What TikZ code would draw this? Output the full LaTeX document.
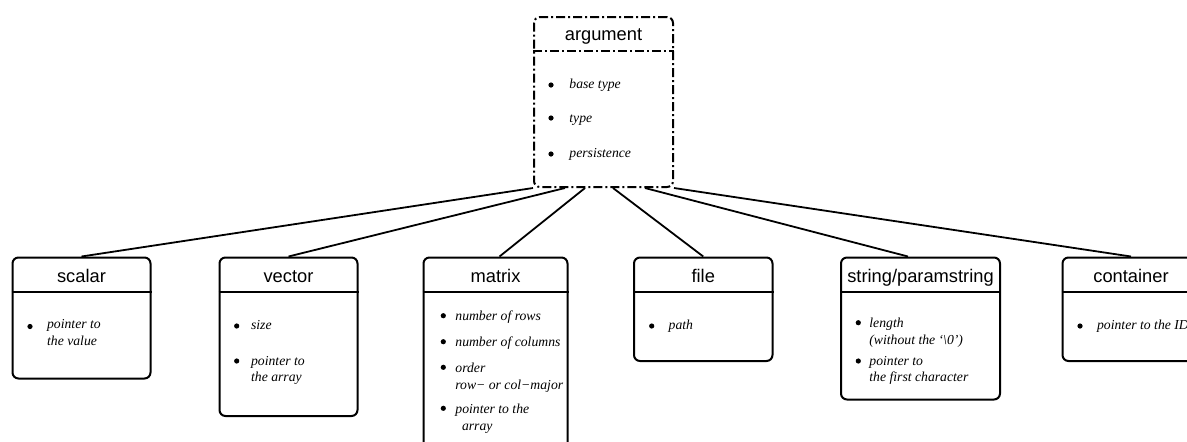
\documentclass[tikz,border=0pt]{standalone}
\usepackage{fontspec}
\setmainfont{Liberation Serif}
\setsansfont{Liberation Sans}
\usetikzlibrary{positioning}

\begin{document}
\begin{tikzpicture}[x=0.5pt, y=-0.5pt,
    box/.style={draw, line width=1pt, rounded corners=3pt, inner sep=0pt},
    argbox/.style={box, dash pattern=on 4.5pt off 1.5pt on 1pt off 1.5pt},
    title/.style={anchor=base, inner sep=0pt, font=\sffamily\fontsize{9.15}{11}\selectfont},
    item/.style={anchor=base west, inner sep=0pt, align=left, font=\itshape\fontsize{6.85}{8.2}\selectfont},
    dot/.style={circle, fill, inner sep=0pt, minimum size=2.6pt},
    edge/.style={line width=0.9pt}]
  \useasboundingbox (0,0) rectangle (1187,441);
  \clip (0,0) rectangle (1187,441);

  % Nodos (las listas de varias lineas van por la base de su ultima linea)
  \node[argbox, minimum width=69.5pt, minimum height=85pt] (argument) at (603.5,102) {};
  \node[title] (argument-t) at (603.5,40.5) {argument};
  \draw[argbox] ([yshift=-17.35pt]argument.north west) -- ([yshift=-17.35pt]argument.north east);
  \node[dot] (argument-d1) at (551,85) {};
  \node[item] (argument-i1) at (569,88.5) {base type};
  \node[dot] (argument-d2) at (551,118) {};
  \node[item] (argument-i2) at (569,122) {type};
  \node[dot] (argument-d3) at (551,154) {};
  \node[item] (argument-i3) at (569,157.5) {persistence};

  \node[box, minimum width=69pt, minimum height=60.5pt] (scalar) at (81.5,318) {};
  \node[title] (scalar-t) at (81.5,282.5) {scalar};
  \draw[box] ([yshift=-17.75pt]scalar.north west) -- ([yshift=-17.75pt]scalar.north east);
  \node[dot] (scalar-d1) at (30,326.5) {};
  \node[item] (scalar-i1) at (46.7,345) {pointer to\\the value};

  \node[box, minimum width=69pt, minimum height=79.25pt] (vector) at (288.5,336.75) {};
  \node[title] (vector-t) at (288.5,282.5) {vector};
  \draw[box] ([yshift=-17.75pt]vector.north west) -- ([yshift=-17.75pt]vector.north east);
  \node[dot] (vector-d1) at (236.7,326) {};
  \node[item] (vector-i1) at (250.7,329.5) {size};
  \node[dot] (vector-d2) at (236.7,361) {};
  \node[item] (vector-i2) at (250.7,381.5) {pointer to\\the array};

  \node[box, minimum width=72pt, minimum height=100pt] (matrix) at (495.5,357.5) {};
  \node[title] (matrix-t) at (495.5,282.5) {matrix};
  \draw[box] ([yshift=-17.75pt]matrix.north west) -- ([yshift=-17.75pt]matrix.north east);
  \node[dot] (matrix-d1) at (443.3,315.7) {};
  \node[item] (matrix-i1) at (455,320.5) {number of rows};
  \node[dot] (matrix-d2) at (443.3,341.7) {};
  \node[item] (matrix-i2) at (455,346) {number of columns};
  \node[dot] (matrix-d3) at (443.3,367.3) {};
  \node[item] (matrix-i3) at (455,389) {order\\row− or col−major};
  \node[dot] (matrix-d4) at (443.3,408.3) {};
  \node[item] (matrix-i4) at (455,430) {pointer to the\\\hspace{3.3pt}array};

  \node[box, minimum width=69.25pt, minimum height=51.75pt] (file) at (703.25,309.25) {};
  \node[title] (file-t) at (703.25,282.5) {file};
  \draw[box] ([yshift=-17.75pt]file.north west) -- ([yshift=-17.75pt]file.north east);
  \node[dot] (file-d1) at (651.7,326) {};
  \node[item] (file-i1) at (668.3,329.5) {path};

  \node[box, minimum width=79.5pt, minimum height=71pt] (string) at (920.5,328.5) {};
  \node[title] (string-t) at (920.5,282.5) {string/paramstring};
  \draw[box] ([yshift=-17.75pt]string.north west) -- ([yshift=-17.75pt]string.north east);
  \node[dot] (string-d1) at (858.3,322.7) {};
  \node[item] (string-i1) at (869,344) {length\\(without the `\textbackslash 0')};
  \node[dot] (string-d2) at (858.3,361) {};
  \node[item] (string-i2) at (869,381.5) {pointer to\\the first character};

  \node[box, minimum width=68.5pt, minimum height=51.75pt] (container) at (1131,309.25) {};
  \node[title] (container-t) at (1131,282.5) {container};
  \draw[box] ([yshift=-17.75pt]container.north west) -- ([yshift=-17.75pt]container.north east);
  \node[dot] (container-d1) at (1080,326) {};
  \node[item] (container-i1) at (1096.7,329.5) {pointer to the ID};

  % Aristas
  \draw[edge] (argument.south west) -- (scalar.north);
  \draw[edge] ([xshift=-19.25pt]argument.south) -- (vector.north);
  \draw[edge] ([xshift=-9.25pt]argument.south) -- ([xshift=2pt]matrix.north);
  \draw[edge] ([xshift=4.75pt]argument.south) -- (file.north);
  \draw[edge] ([xshift=20.75pt]argument.south) -- ([xshift=-6.25pt]string.north);
  \draw[edge] (argument.south east) -- (container.north);
\end{tikzpicture}
\end{document}
